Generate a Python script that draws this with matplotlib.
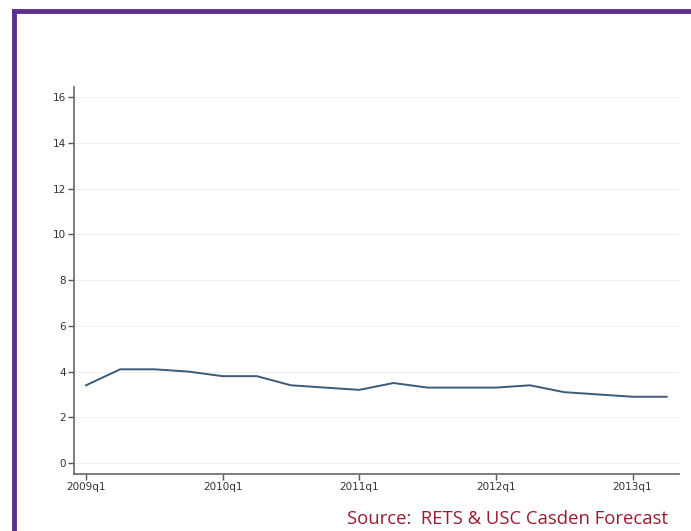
import matplotlib.pyplot as plt
from matplotlib.lines import Line2D

# quarterly series, 2009q1 .. 2013q2
quarters = [2009 + i * 0.25 for i in range(18)]
values = [3.4, 4.1, 4.1, 4.0, 3.8, 3.8, 3.4, 3.3, 3.2, 3.5,
          3.3, 3.3, 3.3, 3.4, 3.1, 3.0, 2.9, 2.9]
xtick_pos = [2009, 2010, 2011, 2012, 2013]
xtick_labels = ["2009q1", "2010q1", "2011q1", "2012q1", "2013q1"]
ytick_pos = [0, 2, 4, 6, 8, 10, 12, 14, 16]
source_text = "Source:  RETS & USC Casden Forecast"

fig = plt.figure(figsize=(6.91, 5.31), dpi=100)
ax = fig.add_axes([74 / 691, 57 / 531, (679 - 74) / 691, (474 - 87) / 531])

ax.plot(quarters, values, color="#3d5a78", linewidth=1.4)

ax.set_xlim(2009 - 0.088, 2013.34)
ax.set_ylim(-0.48, 16.45)
ax.set_xticks(xtick_pos)
ax.set_xticklabels(xtick_labels)
ax.set_yticks(ytick_pos)
ax.tick_params(axis="both", colors="#555555", labelcolor="#333333",
               labelsize=7.5, length=4, width=1, direction="out")
ax.tick_params(axis="x", pad=2)
ax.tick_params(axis="y", pad=2)
ax.grid(axis="y", color="#eef1f4", linewidth=0.8)
ax.set_axisbelow(True)
for side in ["top", "right"]:
    ax.spines[side].set_visible(False)
for side in ["left", "bottom"]:
    ax.spines[side].set_color("#666666")
    ax.spines[side].set_linewidth(1.2)

# purple frame (left and top edges)
frame = "#5d2f8e"
fig.add_artist(Line2D([14 / 691, 14 / 691], [0, 1 - 11 / 531],
                      transform=fig.transFigure, color=frame, linewidth=3.5))
fig.add_artist(Line2D([14 / 691, 1], [1 - 11 / 531, 1 - 11 / 531],
                      transform=fig.transFigure, color=frame, linewidth=3.5))

# source note at the bottom right
fig.text(668 / 691, 7 / 531, source_text, ha="right", va="baseline",
         fontsize=13.3, color="#9b1b30", family="Open Sans")

fig.savefig("out.png", dpi=100)
